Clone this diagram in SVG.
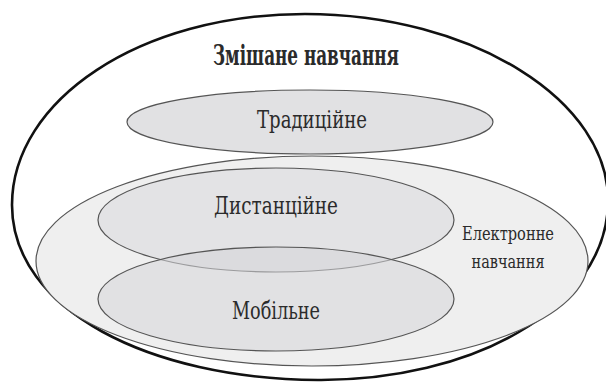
<svg xmlns="http://www.w3.org/2000/svg" width="606" height="383" viewBox="0 0 606 383">
<style>
.t{font-family:'DejaVu Serif','Liberation Serif',serif;fill:#2b2b2b;text-anchor:middle}
.inner{stroke:#555;stroke-width:1.2}
</style>
<rect width="606" height="383" fill="#ffffff"/>
<g id="blended">
<path d="M305,14 C470,14 612,100 608,205 C604,310 470,381 318,380 C150,379 12,310 12,205 C12,100 140,14 305,14 Z" fill="#ffffff" stroke="#111" stroke-width="2.6"/>
<text class="t" x="306" y="65" font-size="27" font-weight="bold" fill="#1a1a1a" textLength="186" lengthAdjust="spacingAndGlyphs">Змішане навчання</text>
</g>
<g id="traditional">
<ellipse class="inner" cx="310" cy="122" rx="183" ry="32" fill="#e1e1e3"/>
<text class="t" x="312" y="128" font-size="25" textLength="110" lengthAdjust="spacingAndGlyphs">Традиційне</text>
</g>
<g id="elearning">
<ellipse class="inner" cx="312" cy="261" rx="276" ry="105" fill="#efefef" stroke="#666"/>
<text class="t" x="508" y="240" font-size="19" textLength="92" lengthAdjust="spacingAndGlyphs">Електронне</text>
<text class="t" x="508" y="268" font-size="19" textLength="73" lengthAdjust="spacingAndGlyphs">навчання</text>
</g>
<g id="distance">
<ellipse class="inner" cx="276" cy="220" rx="178" ry="52" fill="#e1e1e3" fill-opacity="0.9"/>
<text class="t" x="276" y="214" font-size="24" textLength="124" lengthAdjust="spacingAndGlyphs">Дистанційне</text>
</g>
<g id="mobile">
<ellipse class="inner" cx="276" cy="299" rx="178" ry="52" fill="#d6d6d8" fill-opacity="0.55"/>
<text class="t" x="276" y="319" font-size="24" textLength="88" lengthAdjust="spacingAndGlyphs">Мобільне</text>
</g>
<g id="connectors"></g>
</svg>
